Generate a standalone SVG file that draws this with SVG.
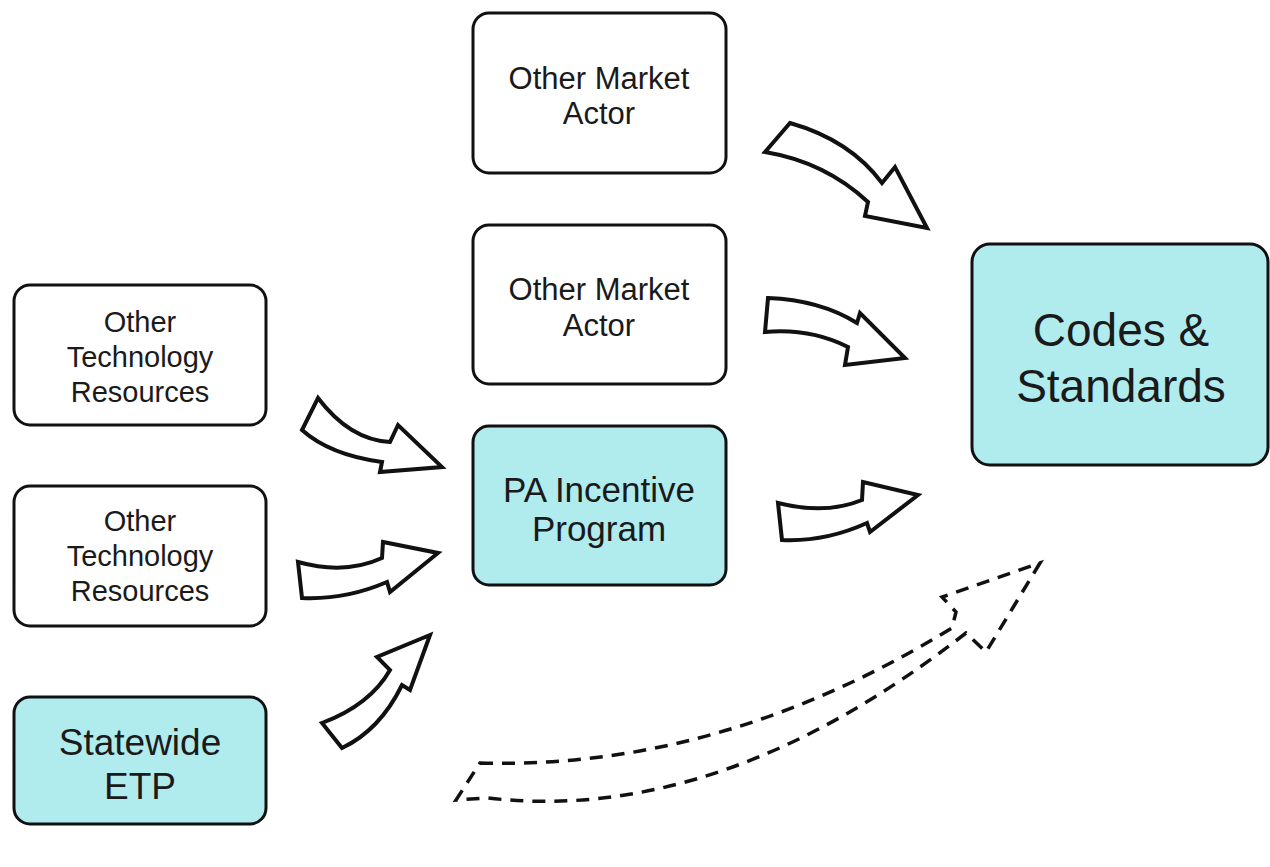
<svg xmlns="http://www.w3.org/2000/svg" width="1270" height="867" viewBox="0 0 1270 867">
<style>
.box{fill:#ffffff;stroke:#111;stroke-width:3}
.hl{fill:#b0ebee;stroke:#111;stroke-width:3}
text{font-family:"Liberation Sans",Arial,Helvetica,sans-serif;fill:#1a1a1a;text-anchor:middle}
.arr{fill:#ffffff;stroke:#111;stroke-width:4;stroke-linejoin:miter}
.dash{fill:none;stroke:#111;stroke-width:3.5;stroke-dasharray:13 9;stroke-linejoin:miter}
</style>
<rect width="1270" height="867" fill="#ffffff"/>
<g id="market1"><rect class="box" x="473" y="13" width="253" height="160" rx="16"/><text font-size="31" x="599" y="89">Other Market</text><text font-size="31" x="599" y="124">Actor</text></g>
<g id="market2"><rect class="box" x="473" y="225" width="253" height="159" rx="16"/><text font-size="31" x="599" y="300">Other Market</text><text font-size="31" x="599" y="336">Actor</text></g>
<g id="pa"><rect class="hl" x="473" y="426" width="253" height="159" rx="16"/><text font-size="35" x="599" y="502">PA Incentive</text><text font-size="35" x="599" y="541">Program</text></g>
<g id="tech1"><rect class="box" x="14" y="285" width="252" height="140" rx="16"/><text font-size="29" x="140" y="332">Other</text><text font-size="29" x="140" y="367">Technology</text><text font-size="29" x="140" y="402">Resources</text></g>
<g id="tech2"><rect class="box" x="14" y="486" width="252" height="140" rx="16"/><text font-size="29" x="140" y="531">Other</text><text font-size="29" x="140" y="566">Technology</text><text font-size="29" x="140" y="601">Resources</text></g>
<g id="etp"><rect class="hl" x="14" y="697" width="252" height="127" rx="16"/><text font-size="37" x="140" y="755">Statewide</text><text font-size="37" x="140" y="799">ETP</text></g>
<g id="codes"><rect class="hl" x="972" y="244" width="296" height="221" rx="18"/><text font-size="46" x="1121" y="346">Codes &amp;</text><text font-size="46" x="1121" y="402">Standards</text></g>
<g id="connectors">
<path class="arr" d="M790,123 Q850,140 882,183 L895,167 L927,228 L865,216 L868,202 Q825,162 765,152 Z"/>
<path class="arr" d="M768,298 Q820,300 857,323 L860,313 L905,358 L845,365 L848,347 Q810,328 765,332 Z"/>
<path class="arr" d="M318,398 Q350,440 390,442 L398,425 L442,467 L380,472 L382,462 Q330,455 302,430 Z"/>
<path class="arr" d="M298,562 Q345,575 382,558 L383,542 L438,553 L390,592 L387,582 Q345,600 302,598 Z"/>
<path class="arr" d="M322,723 Q370,705 390,670 L377,657 L430,635 L410,690 L402,685 Q380,730 342,748 Z"/>
<path class="arr" d="M778,503 Q825,515 862,500 L863,482 L918,495 L870,532 L867,523 Q825,542 782,540 Z"/>
<path class="dash" d="M480,763 Q720,770 952,628 L956,612 L942,597 L1040,563 L986,652 L966,633 Q720,825 488,798 L456,800 Z"/>
</g>
</svg>
